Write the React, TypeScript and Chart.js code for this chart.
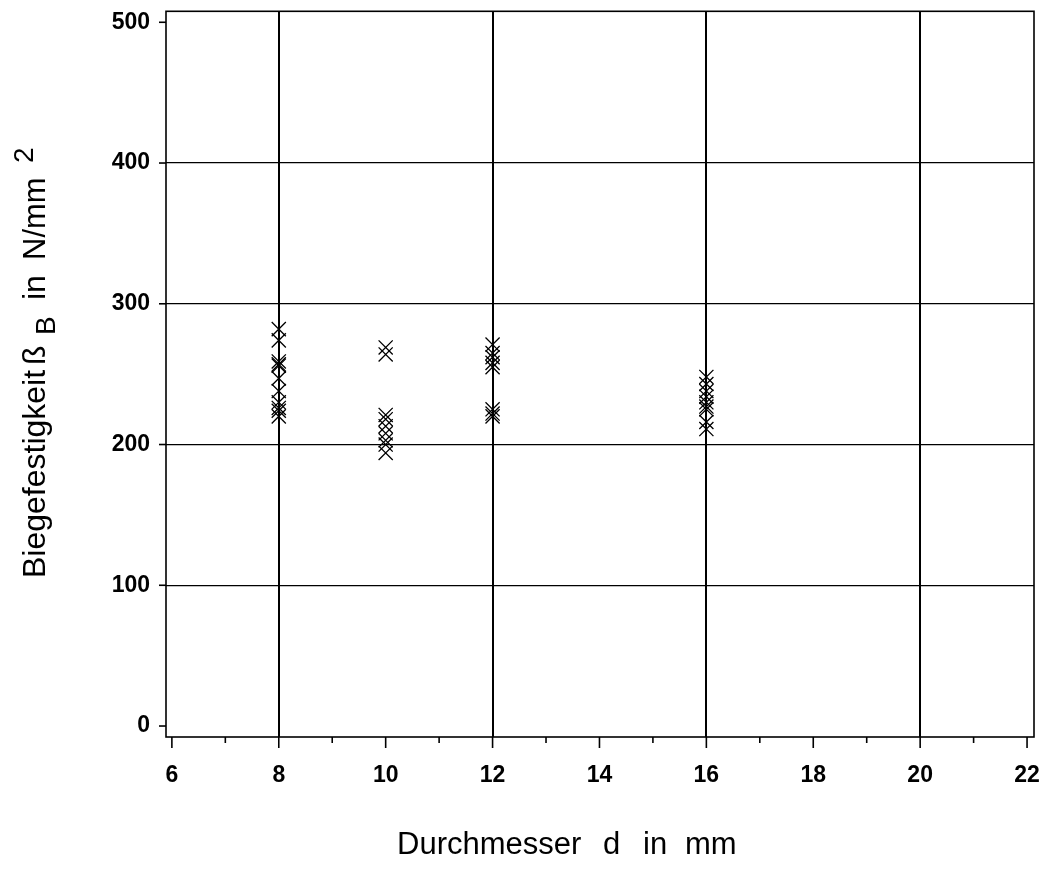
import React, { useEffect, useRef } from "react";
import { Chart, registerables } from "chart.js";

Chart.register(...registerables);

// Durchmesser d in mm (categories along x)
const diameters = [8, 10, 12, 16];
// Biegefestigkeit values per diameter (N/mm²)
const values8 = [282, 274, 259, 257, 256, 247, 238, 230, 226, 224, 220];
const values10 = [269, 264, 221, 218, 213, 208, 203, 200, 194];
const values12 = [271, 265, 262, 258, 255, 225, 222, 220];
const values16 = [248, 243, 238, 234, 230, 227, 225, 216, 211];
const seriesValues = [values8, values10, values12, values16];

const xTickValues = [6, 7, 8, 9, 10, 11, 12, 13, 14, 15, 16, 17, 18, 19, 20, 21, 22];
const xGridValues = [8, 12, 16, 20];
const yTickValues = [0, 100, 200, 300, 400, 500];
const yGridValues = [100, 200, 300, 400];

const xTitleWords = ["Durchmesser", "d", "in", "mm"];
const yTitleParts = ["Biegefestigkeit", "ß", "B", "in", "N/mm", "2"];

const FONT = "'Liberation Sans', Arial, Helvetica, sans-serif";

const framePlugin = {
  id: "framePlugin",
  afterDraw(chart: any) {
    const { ctx, chartArea } = chart;
    const xs = chart.scales.x;
    const ys = chart.scales.y;
    ctx.save();
    ctx.strokeStyle = "#000";
    ctx.lineWidth = 1.6;
    ctx.strokeRect(chartArea.left, chartArea.top, chartArea.right - chartArea.left, chartArea.bottom - chartArea.top);
    // x ticks
    xTickValues.forEach((v) => {
      const px = xs.getPixelForValue(v);
      const len = v % 2 === 0 ? 11 : 6;
      ctx.beginPath();
      ctx.moveTo(px, chartArea.bottom);
      ctx.lineTo(px, chartArea.bottom + len);
      ctx.stroke();
    });
    // y ticks
    yTickValues.forEach((v) => {
      const py = ys.getPixelForValue(v);
      ctx.beginPath();
      ctx.moveTo(chartArea.left - 7, py);
      ctx.lineTo(chartArea.left, py);
      ctx.stroke();
    });
    // x title
    ctx.fillStyle = "#000";
    ctx.font = `31px ${FONT}`;
    ctx.textAlign = "left";
    ctx.textBaseline = "alphabetic";
    const xPos = [397, 603, 643, 685];
    xTitleWords.forEach((w, i) => ctx.fillText(w, xPos[i], 854));
    // y title (rotated)
    ctx.translate(45, 578);
    ctx.rotate(-Math.PI / 2);
    const yPos = [0, 213, 243, 278, 318, 415];
    const yOff = [0, 0, 10, 0, 0, -12];
    const ySize = [32, 32, 28, 32, 31, 28];
    yTitleParts.forEach((p, i) => {
      ctx.font = `${ySize[i]}px ${FONT}`;
      ctx.fillText(p, yPos[i], yOff[i]);
    });
    ctx.restore();
  },
};

export default function App() {
  const ref = useRef<HTMLCanvasElement | null>(null);
  useEffect(() => {
    if (!ref.current) return;
    const points: { x: number; y: number }[] = [];
    diameters.forEach((d, i) => {
      seriesValues[i].forEach((v) => points.push({ x: d, y: v }));
    });
    const noPad = (s: any) => {
      s.paddingLeft = 0;
      s.paddingRight = 0;
      s.paddingTop = 0;
      s.paddingBottom = 0;
    };
    const chart = new Chart(ref.current, {
      type: "scatter",
      data: {
        datasets: [
          {
            data: points,
            pointStyle: "crossRot",
            pointRadius: 10,
            pointBorderWidth: 1.3,
            borderColor: "#000",
            backgroundColor: "#000",
            showLine: false,
          },
        ],
      },
      options: {
        responsive: false,
        animation: false,
        events: [],
        layout: { padding: { top: 10, right: 14, left: 0, bottom: 0 } },
        plugins: { legend: { display: false }, tooltip: { enabled: false } },
        scales: {
          x: {
            type: "linear",
            min: 5.89,
            max: 22.13,
            afterBuildTicks: (s: any) => {
              s.ticks = xTickValues.map((v) => ({ value: v }));
            },
            afterFit: (s: any) => {
              s.height = 136;
              noPad(s);
            },
            grid: {
              drawTicks: false,
              color: (c: any) => (xGridValues.includes(c.tick?.value) ? "#000" : "rgba(0,0,0,0)"),
              lineWidth: 2,
            },
            border: { display: false },
            ticks: {
              autoSkip: false,
              maxRotation: 0,
              padding: 25,
              color: "#000",
              font: { family: FONT, size: 23, weight: "bold" },
              callback: (v: any) => (Number(v) % 2 === 0 ? String(v) : ""),
            },
          },
          y: {
            type: "linear",
            min: -7.8,
            max: 507.8,
            afterBuildTicks: (s: any) => {
              s.ticks = yTickValues.map((v) => ({ value: v }));
            },
            afterFit: (s: any) => {
              s.width = 166;
              noPad(s);
            },
            grid: {
              drawTicks: false,
              color: (c: any) => (yGridValues.includes(c.tick?.value) ? "#000" : "rgba(0,0,0,0)"),
              lineWidth: 1.3,
            },
            border: { display: false },
            ticks: {
              padding: 16,
              color: "#000",
              font: { family: FONT, size: 23, weight: "bold" },
              callback: (v: any) => String(v),
            },
          },
        },
      },
      plugins: [framePlugin],
    });
    return () => chart.destroy();
  }, []);
  return (
    <div style={{ position: "absolute", left: 0, top: 0, width: 1048, height: 873, background: "#fff" }}>
      <canvas ref={ref} width={1048} height={873} style={{ display: "block", width: 1048, height: 873 }} />
    </div>
  );
}
